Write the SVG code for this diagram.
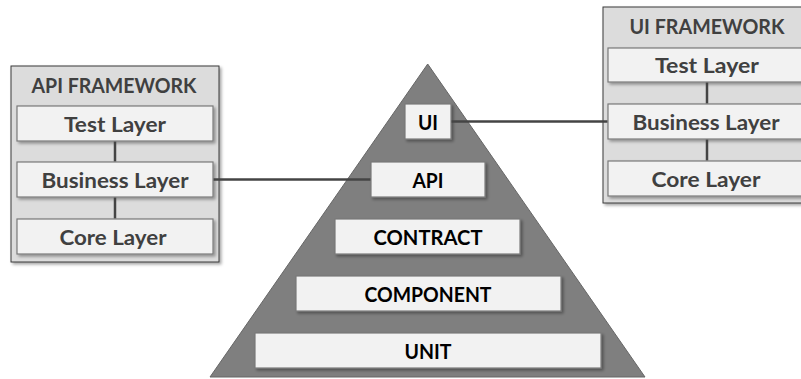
<svg xmlns="http://www.w3.org/2000/svg" width="801" height="379" viewBox="0 0 801 379">
<defs>
<filter id="sh" x="-10%" y="-10%" width="130%" height="140%">
<feDropShadow dx="2" dy="2" stdDeviation="1.5" flood-color="#000" flood-opacity="0.35"/>
</filter>
</defs>
<style>
.frame{fill:#dcdcdc;stroke:#3a3a3a;stroke-width:1}
.box{fill:#f2f2f2;stroke:#7a7a7a;stroke-width:1.2}
.ftxt{font-family:Lato,"Open Sans",sans-serif;font-weight:bold;font-size:21px;fill:#404040;text-anchor:middle}
.ptxt{font-family:Lato,"Open Sans",sans-serif;font-weight:bold;font-size:20px;fill:#000;text-anchor:middle}
.conn{stroke:#444;stroke-width:2.5;fill:none}
.pyr{fill:#7f7f7f;stroke:#666;stroke-width:1}
</style>
<g id="pyramid">
<polygon class="pyr" points="427.7,64 645,377 210,377"/>
</g>
<g id="api-framework">
<rect class="frame" x="11" y="66" width="208" height="196" filter="url(#sh)"/>
<text class="ftxt" x="114" y="92.5" textLength="165" lengthAdjust="spacingAndGlyphs">API FRAMEWORK</text>
<g id="api-test"><rect class="box" x="17" y="106" width="196" height="35" filter="url(#sh)"/><text class="ftxt" x="115" y="131.5" textLength="102" lengthAdjust="spacingAndGlyphs">Test Layer</text></g>
<g id="api-business"><rect class="box" x="17" y="162" width="196" height="35" filter="url(#sh)"/><text class="ftxt" x="115" y="187.5" textLength="147" lengthAdjust="spacingAndGlyphs">Business Layer</text></g>
<g id="api-core"><rect class="box" x="17" y="219" width="196" height="35" filter="url(#sh)"/><text class="ftxt" x="113" y="244.5" textLength="107" lengthAdjust="spacingAndGlyphs">Core Layer</text></g>
</g>
<g id="ui-framework">
<rect class="frame" x="603" y="7" width="208" height="196" filter="url(#sh)"/>
<text class="ftxt" x="707" y="34" textLength="155" lengthAdjust="spacingAndGlyphs">UI FRAMEWORK</text>
<g id="ui-test"><rect class="box" x="608" y="48" width="196" height="34" filter="url(#sh)"/><text class="ftxt" x="707" y="73" textLength="104" lengthAdjust="spacingAndGlyphs">Test Layer</text></g>
<g id="ui-business"><rect class="box" x="608" y="104" width="196" height="35" filter="url(#sh)"/><text class="ftxt" x="706" y="129.5" textLength="147" lengthAdjust="spacingAndGlyphs">Business Layer</text></g>
<g id="ui-core"><rect class="box" x="608" y="161" width="196" height="35" filter="url(#sh)"/><text class="ftxt" x="706" y="186.5" textLength="109" lengthAdjust="spacingAndGlyphs">Core Layer</text></g>
</g>
<g id="ui"><rect class="box" x="405" y="104" width="46" height="35" filter="url(#sh)"/><text class="ptxt" x="428" y="130" textLength="20" lengthAdjust="spacingAndGlyphs">UI</text></g>
<g id="api"><rect class="box" x="371" y="162" width="114" height="35" filter="url(#sh)"/><text class="ptxt" x="428" y="187.5" textLength="31" lengthAdjust="spacingAndGlyphs">API</text></g>
<g id="contract"><rect class="box" x="335" y="219" width="185" height="35" filter="url(#sh)"/><text class="ptxt" x="428" y="244.5" textLength="109" lengthAdjust="spacingAndGlyphs">CONTRACT</text></g>
<g id="component"><rect class="box" x="296" y="276" width="265" height="35" filter="url(#sh)"/><text class="ptxt" x="428" y="301.5" textLength="127" lengthAdjust="spacingAndGlyphs">COMPONENT</text></g>
<g id="unit"><rect class="box" x="255" y="333" width="346" height="35" filter="url(#sh)"/><text class="ptxt" x="428" y="358.5" textLength="47" lengthAdjust="spacingAndGlyphs">UNIT</text></g>
<g id="connectors">
<line class="conn" x1="213.6" y1="179.5" x2="370.4" y2="179.5"/>
<line class="conn" x1="451.6" y1="121.5" x2="607.4" y2="121.5"/>
<line class="conn" x1="115" y1="141.6" x2="115" y2="161.4"/>
<line class="conn" x1="115" y1="197.6" x2="115" y2="218.4"/>
<line class="conn" x1="707" y1="82.6" x2="707" y2="103.4"/>
<line class="conn" x1="707" y1="139.6" x2="707" y2="160.4"/>
</g>
</svg>
